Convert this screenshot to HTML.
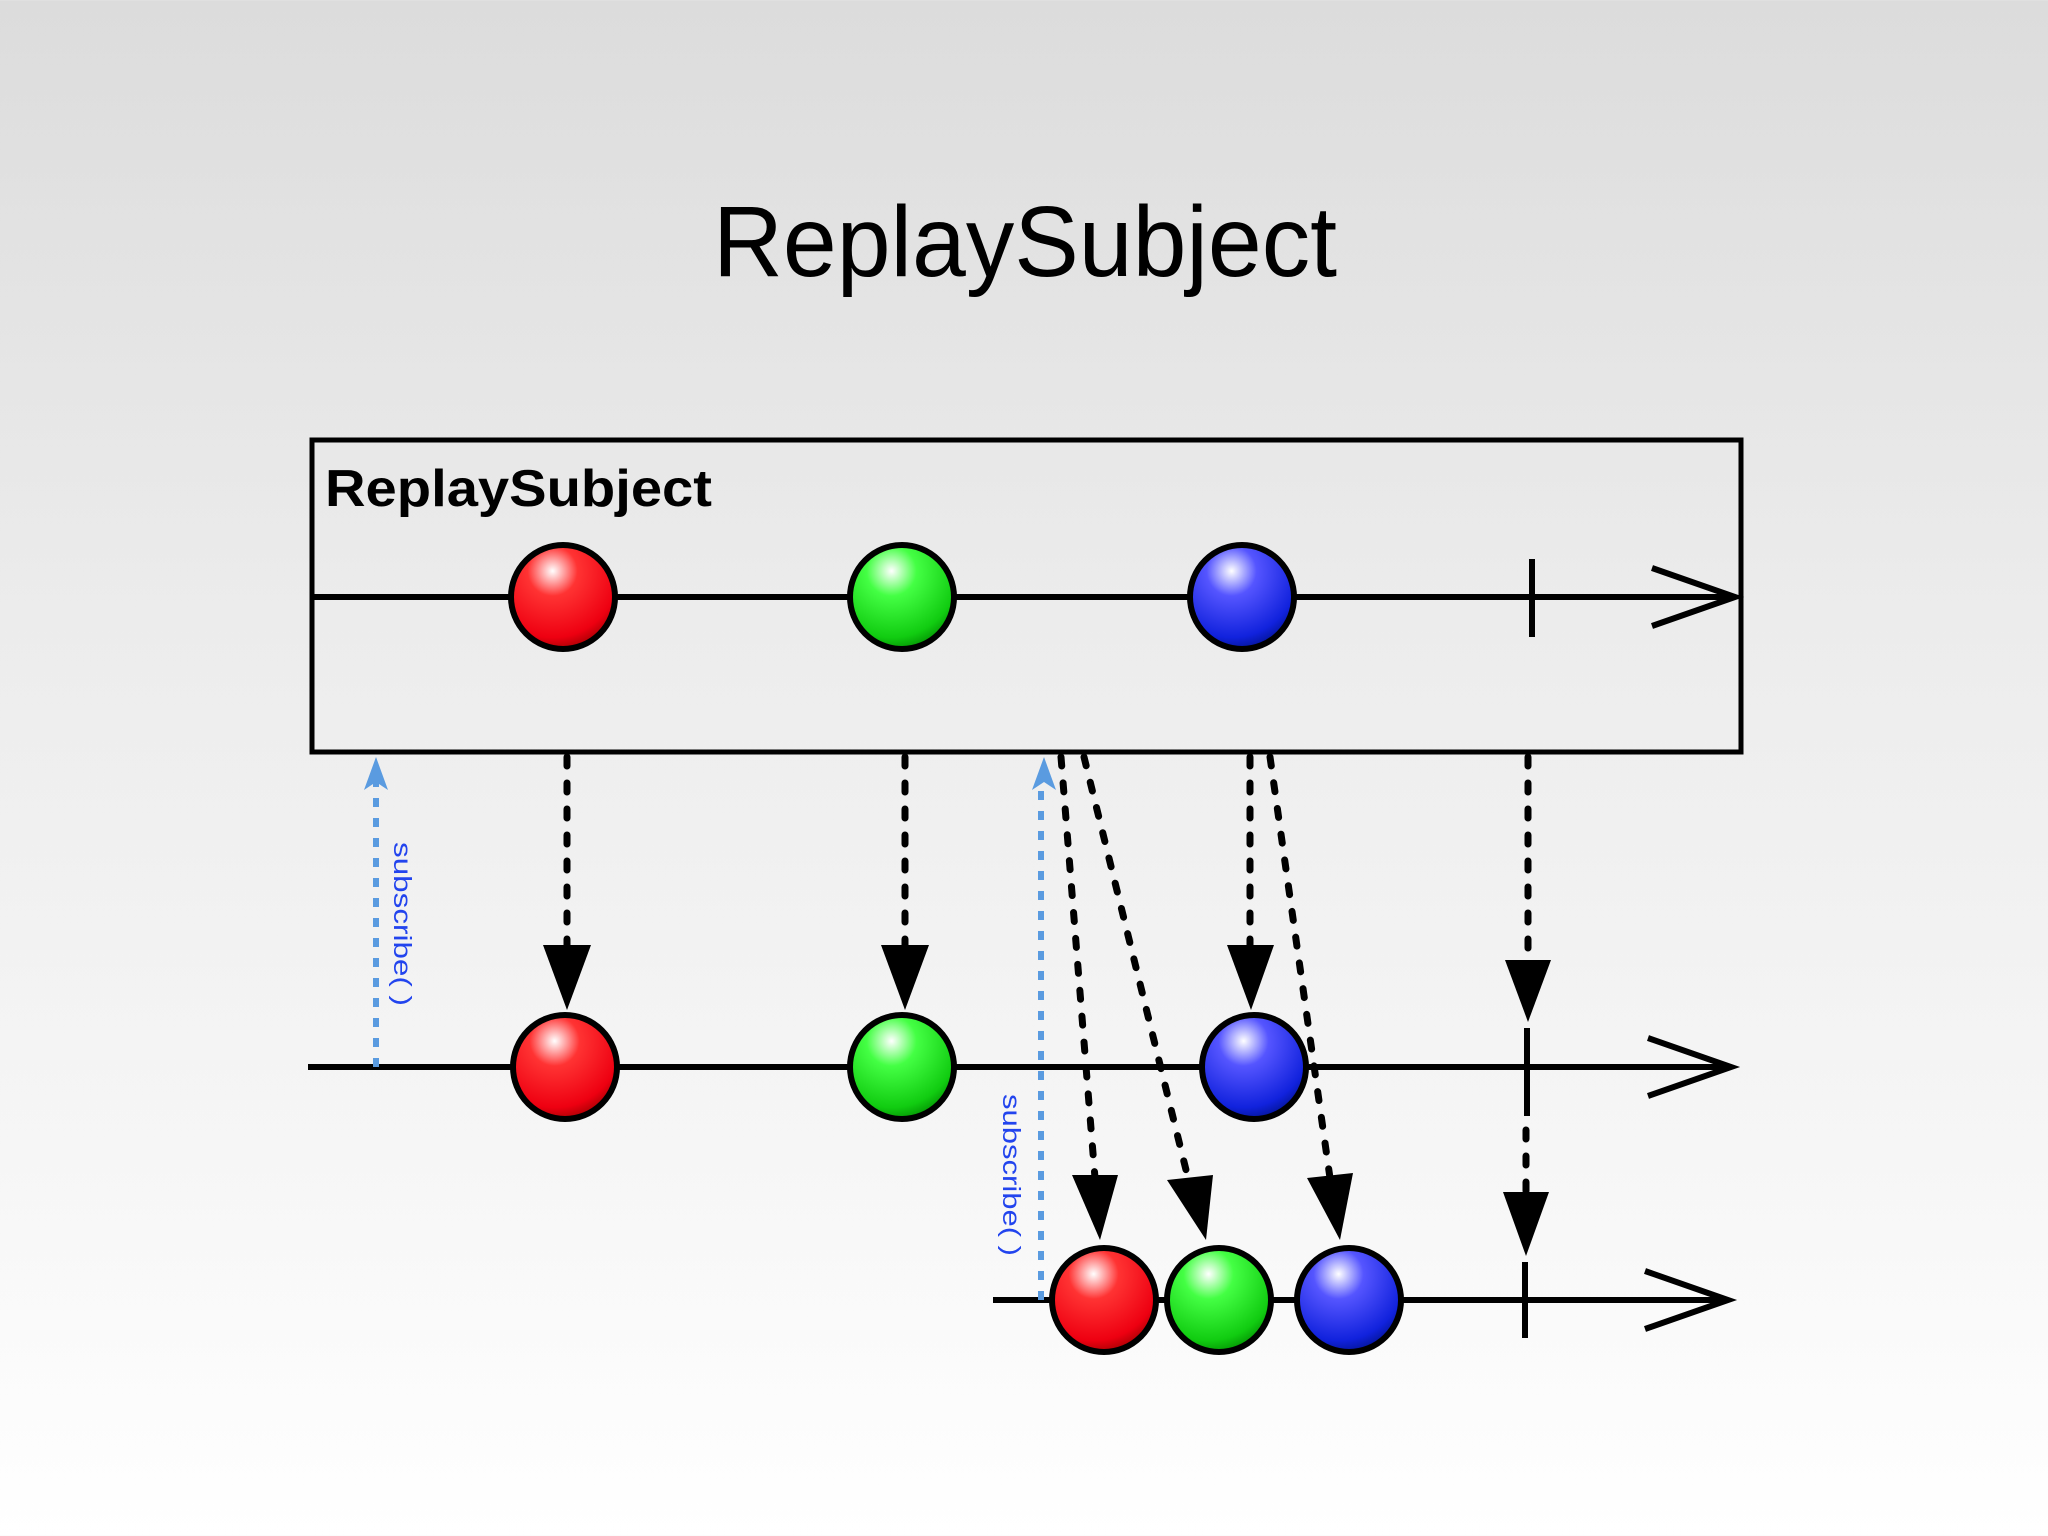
<!DOCTYPE html>
<html><head><meta charset="utf-8"><style>
html,body{margin:0;padding:0;width:2048px;height:1536px;overflow:hidden}
body{background:linear-gradient(#dcdcdc 0%,#ececec 40%,#f6f6f6 75%,#fff 100%)}
</style></head><body>
<svg width="2048" height="1536" viewBox="0 0 2048 1536" xmlns="http://www.w3.org/2000/svg">
<defs>
<radialGradient id="r" cx="0.4" cy="0.25" r="0.8"><stop offset="0" stop-color="#fff"/><stop offset="0.3" stop-color="#f33"/><stop offset="0.8" stop-color="#e01"/><stop offset="1" stop-color="#900"/></radialGradient>
<radialGradient id="g" cx="0.4" cy="0.25" r="0.8"><stop offset="0" stop-color="#fff"/><stop offset="0.3" stop-color="#4f4"/><stop offset="0.8" stop-color="#1c1"/><stop offset="1" stop-color="#080"/></radialGradient>
<radialGradient id="b" cx="0.4" cy="0.25" r="0.8"><stop offset="0" stop-color="#fff"/><stop offset="0.3" stop-color="#55f"/><stop offset="0.8" stop-color="#12d"/><stop offset="1" stop-color="#018"/></radialGradient>
</defs>
<text x="1025" y="276" text-anchor="middle" font-family="Liberation Sans, sans-serif" font-size="100" fill="#000" textLength="624" lengthAdjust="spacingAndGlyphs">ReplaySubject</text>
<rect x="312" y="440" width="1429" height="312" fill="none" stroke="#000" stroke-width="5"/>
<text x="325" y="506" font-family="Liberation Sans, sans-serif" font-weight="bold" font-size="52" fill="#000" textLength="387" lengthAdjust="spacingAndGlyphs">ReplaySubject</text>
<g stroke="#000" stroke-width="6" fill="none">
<line x1="312" y1="597" x2="1735" y2="597"/>
<polyline points="1652,568 1735,597 1652,626"/>
<line x1="1532" y1="559" x2="1532" y2="637"/>
<line x1="308" y1="1067" x2="1731" y2="1067"/>
<polyline points="1648,1038 1731,1067 1648,1096"/>
<line x1="1527" y1="1028" x2="1527" y2="1116"/>
<line x1="993" y1="1300" x2="1728" y2="1300"/>
<polyline points="1645,1271 1728,1300 1645,1329"/>
<line x1="1525" y1="1262" x2="1525" y2="1338"/>
</g>
<g stroke="#000" stroke-width="7" stroke-dasharray="9,17" stroke-linecap="round" fill="none">
<line x1="567" y1="757" x2="567" y2="945"/>
<line x1="905" y1="757" x2="905" y2="945"/>
<line x1="1250" y1="757" x2="1250" y2="945"/>
<line x1="1528" y1="757" x2="1528" y2="960"/>
<line x1="1061" y1="757" x2="1095" y2="1178"/>
<line x1="1084" y1="757" x2="1188" y2="1178"/>
<line x1="1270" y1="757" x2="1330" y2="1178"/>
<line x1="1526" y1="1130" x2="1526" y2="1195"/>
</g>
<g fill="#000">
<polygon points="543,945 591,945 567,1010"/>
<polygon points="881,945 929,945 905,1010"/>
<polygon points="1227,945 1274,945 1251,1010"/>
<polygon points="1505,960 1551,960 1528,1022"/>
<polygon points="1072,1175 1118,1175 1100,1240"/>
<polygon points="1167,1180 1213,1175 1206,1240"/>
<polygon points="1307,1178 1353,1173 1340,1240"/>
<polygon points="1503,1192 1549,1192 1526,1256"/>
</g>
<g stroke="#5a9be0" stroke-width="6" stroke-dasharray="9,11" fill="none">
<line x1="376" y1="1067" x2="376" y2="775"/>
<line x1="1041" y1="1300" x2="1041" y2="775"/>
</g>
<g fill="#5a9be0">
<polygon points="376,757 364,790 376,782 388,790"/>
<polygon points="1044,757 1032,790 1044,782 1056,790"/>
</g>
<text transform="translate(394,842) rotate(90)" font-family="Liberation Sans, sans-serif" font-size="25" fill="#2244ee" textLength="164" lengthAdjust="spacingAndGlyphs">subscribe( )</text>
<text transform="translate(1003,1094) rotate(90)" font-family="Liberation Sans, sans-serif" font-size="25" fill="#2244ee" textLength="162" lengthAdjust="spacingAndGlyphs">subscribe( )</text>
<g stroke="#000" stroke-width="6">
<circle cx="563" cy="597" r="52" fill="url(#r)"/>
<circle cx="902" cy="597" r="52" fill="url(#g)"/>
<circle cx="1242" cy="597" r="52" fill="url(#b)"/>
<circle cx="565" cy="1067" r="52" fill="url(#r)"/>
<circle cx="902" cy="1067" r="52" fill="url(#g)"/>
<circle cx="1254" cy="1067" r="52" fill="url(#b)"/>
<circle cx="1104" cy="1300" r="52" fill="url(#r)"/>
<circle cx="1219" cy="1300" r="52" fill="url(#g)"/>
<circle cx="1349" cy="1300" r="52" fill="url(#b)"/>
</g>
</svg>
</body></html>
